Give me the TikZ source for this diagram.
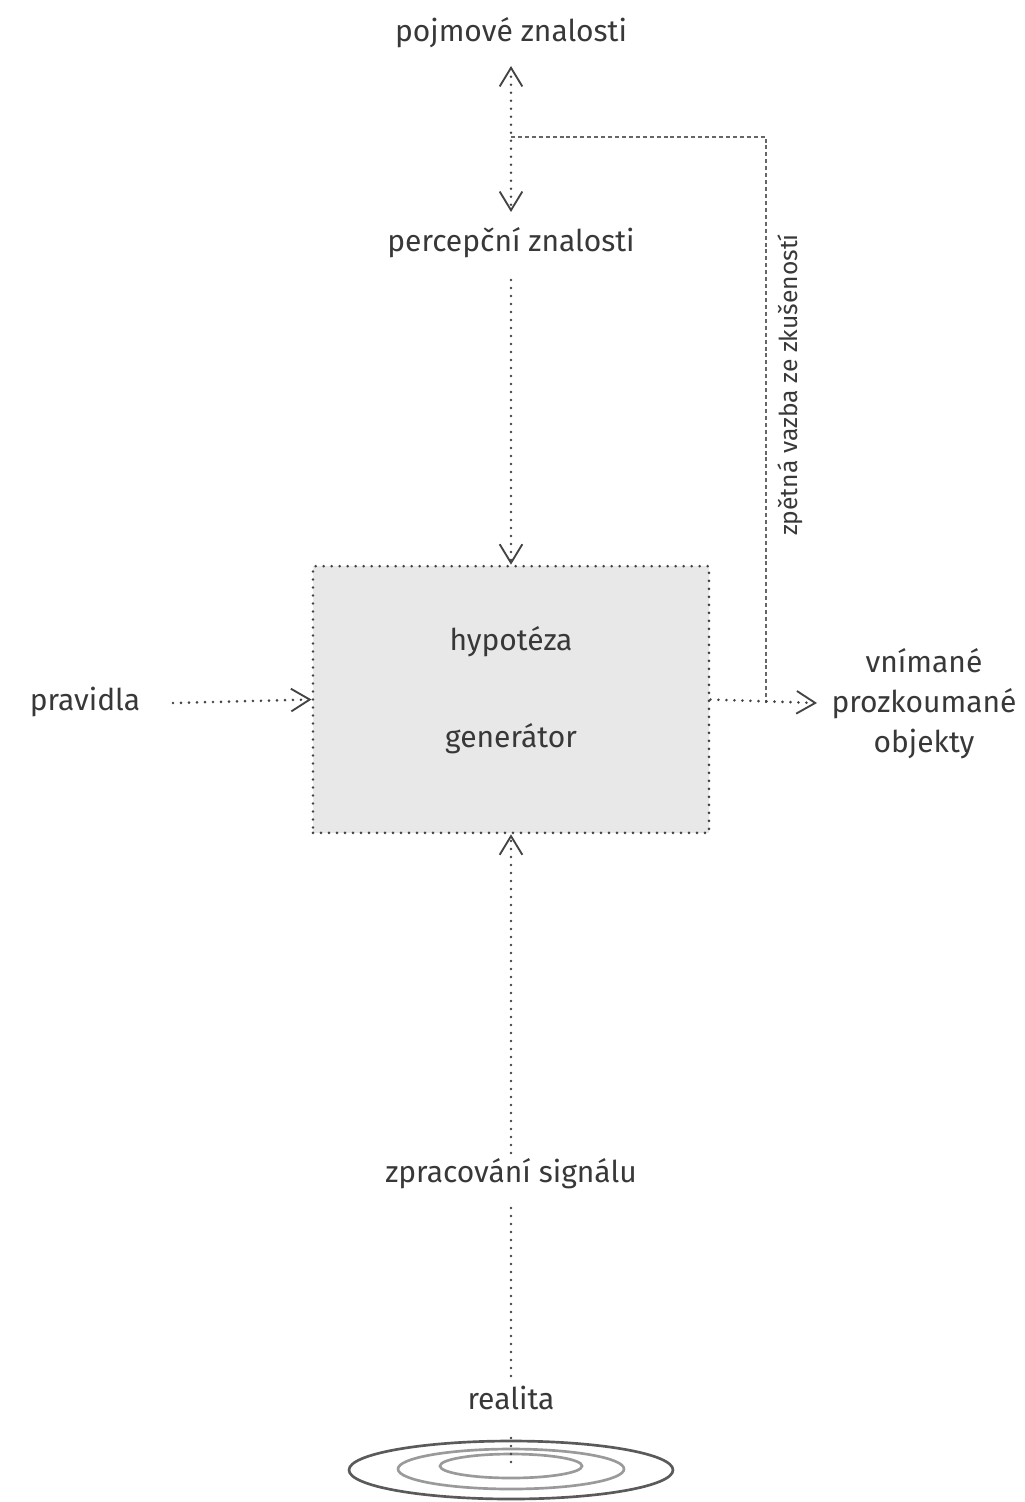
\documentclass[tikz,border=0pt]{standalone}
\usepackage{fontspec}
\setmainfont{Fira Sans}
\usetikzlibrary{arrows.meta}
\definecolor{ink}{HTML}{383838}
\definecolor{linegray}{HTML}{444444}
\definecolor{dashgray}{HTML}{666666}
\definecolor{boxfill}{HTML}{E8E8E8}
\definecolor{ringdark}{HTML}{5A5A5A}
\definecolor{ringlight}{HTML}{9A9A9A}
\tikzset{
  lbl/.style={text=ink, font=\fontsize{22.5}{30}\selectfont, inner sep=0pt, align=center},
  sidelbl/.style={text=ink, font=\fontsize{18.5}{22}\selectfont, inner sep=0pt},
  dotline/.style={draw=linegray, line width=2.2pt, dash pattern=on 0pt off 6pt, line cap=round},
  dashline/.style={draw=dashgray, line width=1pt, dash pattern=on 3pt off 2.2pt},
  barb/.tip={Straight Barb[length=14pt, width=17pt, line width=1.4pt]},
  tip/.style={-barb},
  genbox/.style={draw=linegray, fill=boxfill, line width=2.2pt, dash pattern=on 0pt off 6pt, line cap=round,
    minimum width=297pt, minimum height=200pt, inner sep=0pt},
}
\begin{document}
\begin{tikzpicture}[x=0.75pt, y=-0.75pt]
\useasboundingbox (0,0) rectangle (1024,1502);

% text nodes
\node[lbl] (pojm) at (511,33) {pojmové znalosti};
\node[lbl] (perc) at (511,243) {percepční znalosti};
\node[genbox] (box) at (511,699.5) {};
\node[lbl] (hyp) at (511,642) {hypotéza};
\node[lbl] (gen) at (511,739) {generátor};
\node[lbl] (prav) at (85,702) {pravidla};
\node[lbl] (obj) at (924,704) {vnímané\\prozkoumané\\objekty};
\node[sidelbl, rotate=90] (zpet) at (790,385) {zpětná vazba ze zkušeností};
\node[lbl] (zprac) at (511,1174) {zpracování signálu};
\node[lbl] (real) at (511,1398) {realita};

% connector coordinates
\coordinate (pojmTip) at (511,66);
\coordinate (percTip) at (511,212);
\coordinate (fbStart) at (511,137);
\coordinate (fbCorner) at (766,137);
\coordinate (fbEnd) at (766,703);
\coordinate (percOut) at (511,280);
\coordinate (pravOut) at (173,703);
\coordinate (objIn) at (817,703);
\coordinate (zpracOut) at (511,1153);
\coordinate (zpracBelow) at (511,1208);
\coordinate (realAbove) at (511,1380);
\coordinate (realBelow) at (511,1438);
\coordinate (ringC) at (511,1468);

% rings
\draw[ringdark, line width=2pt] (511,1470) ellipse [x radius=162, y radius=29];
\draw[ringlight, line width=2pt] (511,1469) ellipse [x radius=113, y radius=20];
\draw[ringlight, line width=2pt] (511,1466) ellipse [x radius=71, y radius=12];

% connectors
\draw[dotline, barb-barb] (pojmTip) -- (percTip);
\draw[dashline] (fbStart) -- (fbCorner) -- (fbEnd);
\draw[dotline, tip] (percOut) -- (box.north);
\draw[dotline, tip] (zpracOut) -- (box.south);
\draw[dotline, tip] (pravOut) -- (box.west);
\draw[dotline, tip] (box.east) -- (objIn);
\draw[dotline] (zpracBelow) -- (realAbove);
\draw[dotline] (realBelow) -- (ringC);
\end{tikzpicture}
\end{document}
